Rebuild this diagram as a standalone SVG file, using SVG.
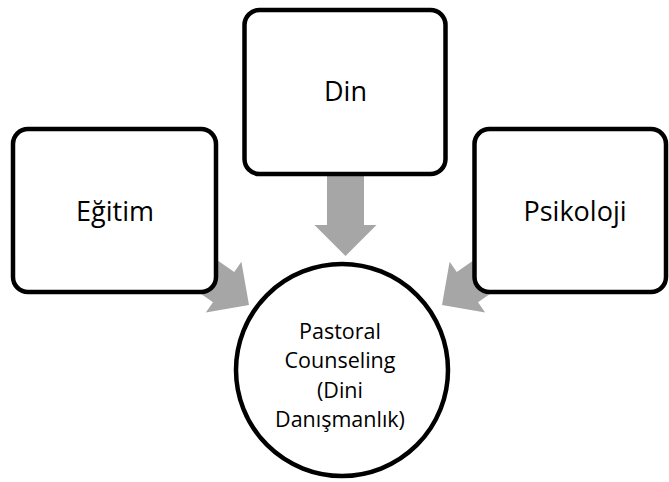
<svg xmlns="http://www.w3.org/2000/svg" width="669" height="482" viewBox="0 0 669 482">
<defs>
<style>
.box{fill:#ffffff;stroke:#000000;stroke-width:4.5}
.lbl{font-family:"Open Sans","DejaVu Sans",sans-serif;font-size:27px;fill:#000000;text-anchor:middle}
.sm{font-family:"Open Sans","DejaVu Sans",sans-serif;font-size:21.5px;fill:#000000;text-anchor:middle}
.arr{fill:#a6a6a6}
</style>
<polygon id="arrow" points="0,0 -31,-31 -31,-18.5 -85,-18.5 -85,18.5 -31,18.5 -31,31"/>
</defs>
<rect width="669" height="482" fill="#ffffff"/>
<g id="connectors">
<use href="#arrow" class="arr" transform="translate(345.5,256) rotate(90)"/>
<use href="#arrow" class="arr" transform="translate(249,305) rotate(35)"/>
<use href="#arrow" class="arr" transform="translate(442,305) rotate(145)"/>
</g>
<g id="egitim">
<rect class="box" x="13" y="129" width="203" height="163" rx="15"/>
<text class="lbl" x="115" y="221">Eğitim</text>
</g>
<g id="din">
<rect class="box" x="244.5" y="10" width="201" height="164" rx="15"/>
<text class="lbl" x="345.5" y="101">Din</text>
</g>
<g id="psikoloji">
<rect class="box" x="474.5" y="129" width="191.5" height="163" rx="15"/>
<text class="lbl" x="575" y="221">Psikoloji</text>
</g>
<g id="pastoral">
<circle class="box" cx="342" cy="370" r="106"/>
<text class="sm" x="340" y="338.5">Pastoral</text>
<text class="sm" x="340" y="368">Counseling</text>
<text class="sm" x="340" y="397.5">(Dini</text>
<text class="sm" x="340" y="427">Danışmanlık)</text>
</g>
</svg>
